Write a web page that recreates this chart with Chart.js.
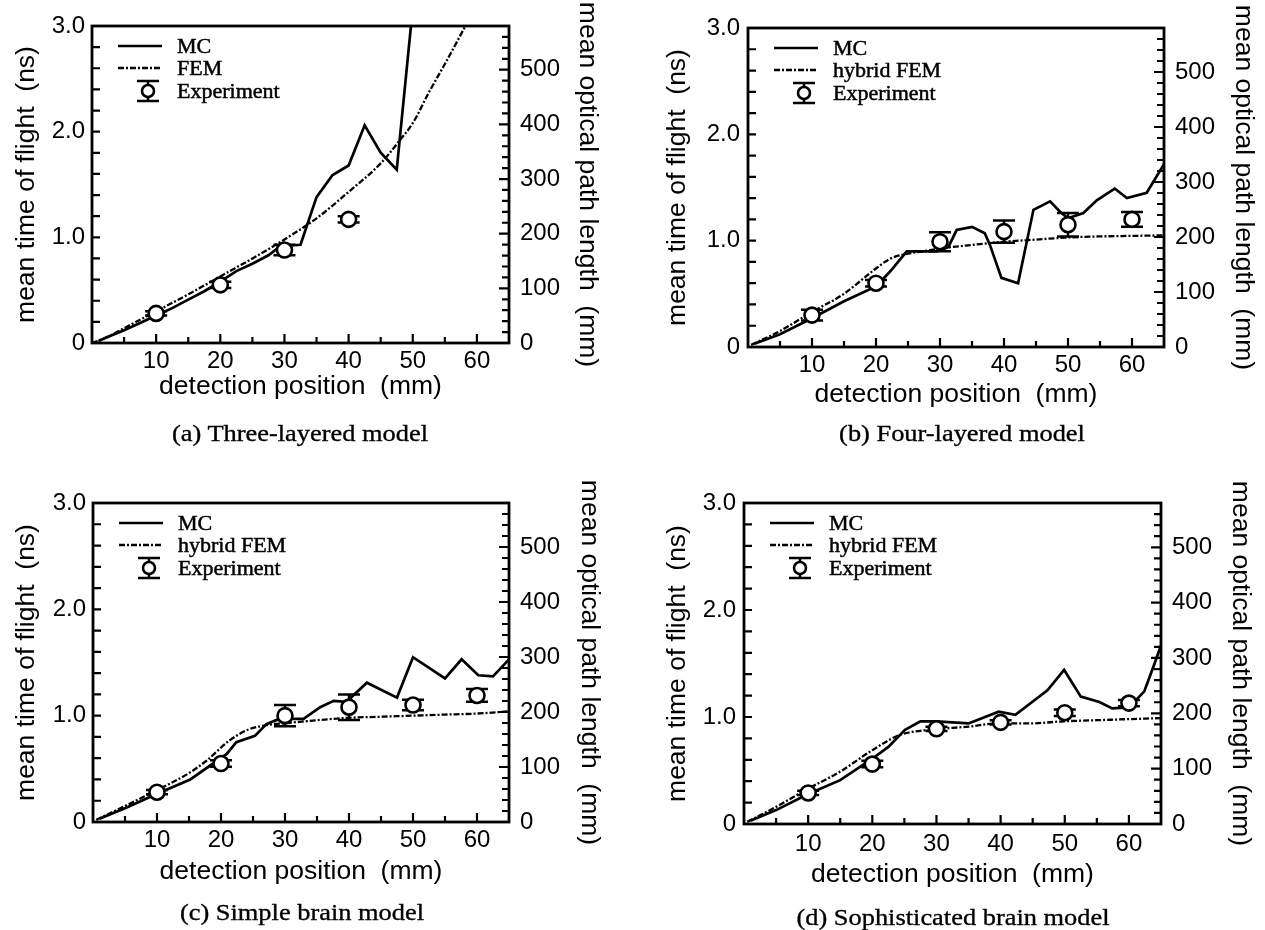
<!DOCTYPE html>
<html><head><meta charset="utf-8">
<script src="https://cdn.jsdelivr.net/npm/chart.js@4.4.1/dist/chart.umd.min.js"></script>
<style>
body{margin:0;background:#fff;width:1265px;height:930px;position:relative;overflow:hidden}
canvas{position:absolute}
.cap{position:absolute;width:500px;text-align:center;font-family:"Liberation Serif","Times New Roman",serif;font-size:24px;color:#000;transform:scaleX(1.1);line-height:28px;white-space:nowrap;-webkit-text-stroke:0.35px #000}
</style></head><body>
<canvas id="ca" width="640" height="420" style="left:0;top:0"></canvas>
<canvas id="cb" width="625" height="420" style="left:640px;top:0"></canvas>
<canvas id="cc" width="640" height="470" style="left:0;top:460px"></canvas>
<canvas id="cd" width="625" height="470" style="left:640px;top:460px"></canvas>
<div class="cap" style="left:50px;top:419px">(a) Three-layered model</div>
<div class="cap" style="left:712px;top:419px">(b) Four-layered model</div>
<div class="cap" style="left:52px;top:898px">(c) Simple brain model</div>
<div class="cap" style="left:703px;top:903px">(d) Sophisticated brain model</div>
<script>
// ---- tick labels / tick marks ----
const xTickLabels = [10, 20, 30, 40, 50, 60];
const xTickMarks = [5, 10, 15, 20, 25, 30, 35, 40, 45, 50, 55, 60];
const yTickLabels = [0, 1, 2, 3];
const yTickMarks = [0.2, 0.4, 0.6, 0.8, 1.0, 1.2, 1.4, 1.6, 1.8, 2.0, 2.2, 2.4, 2.6, 2.8];
const y2TickLabels = [0, 100, 200, 300, 400, 500];
const y2TickMarks = [20, 40, 60, 80, 100, 120, 140, 160, 180, 200, 220, 240, 260, 280, 300, 320, 340, 360, 380, 400, 420, 440, 460, 480, 500, 520, 540, 560];

// ---- legend labels ----
const legendA = ["MC", "FEM", "Experiment"];
const legendB = ["MC", "hybrid FEM", "Experiment"];

// ---- experiment positions ----
const expX = [10, 20, 30, 40, 50, 60];

// ---- (a) Three-layered model ----
const mcA_x = [1, 3, 5, 7.5, 10, 12.5, 15, 17.5, 20, 22.5, 25, 27.5, 29, 30, 32.5, 35, 37.5, 40, 42.5, 45, 47.5, 49.8];
const mcA_y = [0.02, 0.07, 0.12, 0.19, 0.26, 0.33, 0.41, 0.49, 0.58, 0.68, 0.75, 0.83, 0.90, 0.92, 0.93, 1.38, 1.59, 1.68, 2.06, 1.80, 1.64, 3.05];
const femA_x = [0, 2.5, 5, 10, 15, 20, 25, 30, 35, 40, 45, 48, 50, 52.5, 55, 58.2, 59.5];
const femA_y = [0, 0.06, 0.14, 0.30, 0.46, 0.63, 0.80, 0.98, 1.18, 1.43, 1.70, 1.92, 2.08, 2.37, 2.64, 3.0, 3.15];
const expA_x = [10, 20, 30, 40];
const expA_y = [0.28, 0.55, 0.88, 1.17];
const expA_err = [0.02, 0.03, 0.05, 0.03];

// ---- (b) Four-layered model ----
const mcB_x = [1, 5, 10, 15, 20, 22.2, 24.8, 27.4, 29.5, 31.3, 32.6, 35, 37, 37.8, 39.6, 42.2, 44.6, 47.2, 48.8, 50, 52.4, 54.5, 57.3, 59.2, 62.3, 64, 65];
const mcB_y = [0.03, 0.12, 0.27, 0.43, 0.57, 0.71, 0.90, 0.90, 0.90, 0.94, 1.10, 1.13, 1.07, 0.96, 0.65, 0.60, 1.29, 1.37, 1.27, 1.21, 1.26, 1.38, 1.49, 1.40, 1.45, 1.62, 1.72];
const femB_x = [0.5, 5, 10, 15, 19.6, 22.2, 24.3, 27.4, 30.5, 35, 40, 45, 50, 55, 60, 65];
const femB_y = [0.02, 0.15, 0.33, 0.50, 0.72, 0.83, 0.87, 0.90, 0.93, 0.96, 0.99, 1.01, 1.03, 1.04, 1.045, 1.05];
const expB_y = [0.30, 0.60, 0.99, 1.085, 1.15, 1.20];
const expB_err = [0.05, 0.03, 0.09, 0.105, 0.11, 0.07];

// ---- (c) Simple brain model ----
const mcC_x = [1, 5, 10.2, 15.2, 20.9, 22.4, 25.3, 27.1, 28.7, 30.3, 32.9, 35.5, 37.6, 39.6, 42.8, 47.5, 50, 55, 57.6, 60.2, 62.5, 65];
const mcC_y = [0.03, 0.13, 0.27, 0.40, 0.64, 0.75, 0.81, 0.92, 0.96, 0.97, 0.97, 1.08, 1.14, 1.13, 1.31, 1.17, 1.55, 1.35, 1.53, 1.38, 1.37, 1.53];
const femC_x = [0.5, 5, 10, 15, 17.8, 21.4, 24.3, 27.1, 30.3, 35.5, 40, 45, 50, 55, 60, 65];
const femC_y = [0.02, 0.15, 0.30, 0.46, 0.58, 0.77, 0.87, 0.91, 0.93, 0.96, 0.98, 0.99, 1.00, 1.01, 1.02, 1.04];
const expC_y = [0.28, 0.55, 1.00, 1.08, 1.10, 1.19];
const expC_err = [0.02, 0.03, 0.10, 0.12, 0.05, 0.06];

// ---- (d) Sophisticated brain model ----
const mcD_x = [1, 5, 10, 15, 20, 22.5, 25.1, 27.5, 30, 35, 39.7, 42.3, 47.3, 49.9, 52.5, 55.4, 57.4, 60, 62.4, 64, 65];
const mcD_y = [0.03, 0.13, 0.28, 0.41, 0.61, 0.72, 0.88, 0.96, 0.96, 0.94, 1.05, 1.02, 1.25, 1.44, 1.19, 1.14, 1.08, 1.09, 1.24, 1.50, 1.67];
const femD_x = [0.5, 5, 10, 15, 20, 24.2, 28.8, 35, 39.7, 44.4, 49.9, 55, 60, 65];
const femD_y = [0.02, 0.16, 0.33, 0.49, 0.69, 0.83, 0.88, 0.91, 0.94, 0.94, 0.96, 0.97, 0.98, 0.99];
const expD_y = [0.29, 0.56, 0.89, 0.95, 1.04, 1.13];
const expD_err = [0.02, 0.03, 0.02, 0.02, 0.03, 0.03];

const SANS = '"Liberation Sans", Arial, Helvetica, sans-serif';
const SERIF = '"Liberation Serif", "Times New Roman", serif';
const FEM_DASH = [6, 2, 2, 2];
const zip = (xs, ys) => xs.map((x, i) => ({x: x, y: ys[i]}));

const framePlugin = {
  id: 'frame',
  beforeDatasetDraw(chart, args) {
    if (args.index !== 0) return;
    const ds = chart.data.datasets[0];
    const {ctx} = chart; const xs = chart.scales.x, ys = chart.scales.y;
    ctx.save(); ctx.strokeStyle = '#000'; ctx.lineWidth = 2.5;
    ds.data.forEach((p, i) => {
      const e = ds.errors[i];
      const px = xs.getPixelForValue(p.x);
      const yt = ys.getPixelForValue(p.y + e), yb = ys.getPixelForValue(p.y - e);
      ctx.beginPath();
      ctx.moveTo(px, yt); ctx.lineTo(px, yb);
      ctx.moveTo(px - 11, yt); ctx.lineTo(px + 11, yt);
      ctx.moveTo(px - 11, yb); ctx.lineTo(px + 11, yb);
      ctx.stroke();
    });
    ctx.restore();
  },
  afterDraw(chart) {
    const {ctx, chartArea: a, scales} = chart;
    ctx.save(); ctx.strokeStyle = '#000';
    ctx.lineWidth = 2.2;
    ctx.beginPath();
    xTickMarks.forEach(v => {
      const px = scales.x.getPixelForValue(v);
      const len = (v % 10 === 0) ? 9 : 6;
      ctx.moveTo(px, a.bottom); ctx.lineTo(px, a.bottom - len);
    });
    yTickMarks.forEach(v => {
      const py = scales.y.getPixelForValue(v);
      ctx.moveTo(a.left, py); ctx.lineTo(a.left + 8, py);
    });
    y2TickMarks.forEach(v => {
      const py = scales.y2.getPixelForValue(v);
      const len = (v % 100 === 0) ? 10 : 7;
      ctx.moveTo(a.right, py); ctx.lineTo(a.right - len, py);
    });
    ctx.stroke();
    ctx.lineWidth = 2.8;
    ctx.strokeRect(a.left, a.top, a.right - a.left, a.bottom - a.top);

    // legend
    const labels = chart.options.plugins.figLegend.labels;
    const L = a.left, T = a.top;
    const rows = [T + 20, T + 42, T + 65];
    ctx.lineWidth = 2.6;
    ctx.beginPath(); ctx.moveTo(L + 26, rows[0]); ctx.lineTo(L + 70, rows[0]); ctx.stroke();
    ctx.lineWidth = 2.3; ctx.setLineDash(FEM_DASH);
    ctx.beginPath(); ctx.moveTo(L + 26, rows[1]); ctx.lineTo(L + 70, rows[1]); ctx.stroke();
    ctx.setLineDash([]);
    const sx = L + 56, sy = rows[2];
    ctx.lineWidth = 2.6;
    ctx.beginPath();
    ctx.moveTo(sx, sy - 10); ctx.lineTo(sx, sy + 10);
    ctx.moveTo(sx - 11, sy - 10); ctx.lineTo(sx + 11, sy - 10);
    ctx.moveTo(sx - 11, sy + 10); ctx.lineTo(sx + 11, sy + 10);
    ctx.stroke();
    ctx.beginPath(); ctx.arc(sx, sy, 6, 0, Math.PI * 2);
    ctx.fillStyle = '#fff'; ctx.fill(); ctx.stroke();
    ctx.fillStyle = '#000';
    ctx.font = '22px ' + SERIF;
    ctx.textBaseline = 'middle'; ctx.textAlign = 'left';
    ctx.lineWidth = 0.5;
    labels.forEach((t, i) => { ctx.fillText(t, L + 85, rows[i] + 1); ctx.strokeText(t, L + 85, rows[i] + 1); });
    ctx.restore();
  }
};

function makeChart(id, p, lay) {
  const tickFont = {family: SANS, size: 24};
  const titleFont = {family: SANS, size: 26.5};
  return new Chart(document.getElementById(id), {
    type: 'line',
    data: {
      datasets: [
        {label: p.legend[2], data: zip(p.expX, p.expY), errors: p.expErr, showLine: false,
         pointRadius: 7.5, pointBorderWidth: 2.6, pointBackgroundColor: '#fff', pointBorderColor: '#000', yAxisID: 'y'},
        {label: p.legend[1], data: zip(p.femX, p.femY), borderColor: '#000', borderWidth: 2.3,
         borderDash: FEM_DASH, pointRadius: 0, cubicInterpolationMode: 'monotone', fill: false, yAxisID: 'y'},
        {label: p.legend[0], data: zip(p.mcX, p.mcY), borderColor: '#000', borderWidth: 2.7,
         pointRadius: 0, fill: false, yAxisID: 'y'}
      ]
    },
    options: {
      responsive: false, maintainAspectRatio: false, animation: false,
      layout: {padding: {top: lay.padTop, left: 0, right: 0, bottom: 0}},
      plugins: {legend: {display: false}, tooltip: {enabled: false}, figLegend: {labels: p.legend}},
      scales: {
        x: {
          type: 'linear', position: 'bottom', min: 0, max: 65,
          afterBuildTicks: s => { s.ticks = xTickLabels.map(v => ({value: v})); },
          afterFit: s => { s.height = lay.xH; },
          ticks: {font: tickFont, color: '#000', padding: lay.xTickPad, maxRotation: 0, autoSkip: false, callback: v => String(v)},
          grid: {display: false, drawTicks: false}, border: {display: false},
          title: {display: true, text: 'detection position  (mm)', font: titleFont, color: '#000', padding: {top: 0, bottom: lay.xTitlePad}}
        },
        y: {
          type: 'linear', position: 'left', min: 0, max: 3,
          afterBuildTicks: s => { s.ticks = yTickLabels.map(v => ({value: v})); },
          afterFit: s => { s.width = lay.yW; },
          ticks: {font: tickFont, color: '#000', padding: lay.yTickPad, callback: v => v === 0 ? '0' : v.toFixed(1)},
          grid: {display: false, drawTicks: false}, border: {display: false},
          title: {display: true, text: 'mean time of flight  (ns)', font: titleFont, color: '#000', padding: {top: lay.yTitlePad, bottom: 0}}
        },
        y2: {
          type: 'linear', position: 'right', min: 0, max: 580,
          afterBuildTicks: s => { s.ticks = y2TickLabels.map(v => ({value: v})); },
          afterFit: s => { s.width = lay.y2W; },
          ticks: {font: tickFont, color: '#000', padding: 11, callback: v => String(v)},
          grid: {display: false, drawTicks: false}, border: {display: false},
          title: {display: true, text: 'mean optical path length  (mm)', font: titleFont, color: '#000', padding: {top: lay.y2TitlePad, bottom: 0}}
        }
      }
    },
    plugins: [framePlugin]
  });
}

makeChart('ca', {legend: legendA, mcX: mcA_x, mcY: mcA_y, femX: femA_x, femY: femA_y, expX: expA_x, expY: expA_y, expErr: expA_err},
  {padTop: 26, yW: 92, y2W: 131, xH: 77, yTitlePad: 11, y2TitlePad: 37, xTitlePad: 17, xTickPad: 3.5, yTickPad: 7});
makeChart('cb', {legend: legendB, mcX: mcB_x, mcY: mcB_y, femX: femB_x, femY: femB_y, expX: expX, expY: expB_y, expErr: expB_err},
  {padTop: 28, yW: 108, y2W: 101, xH: 73, yTitlePad: 22, y2TitlePad: 6, xTitlePad: 9, xTickPad: 3.5, yTickPad: 8});
makeChart('cc', {legend: legendB, mcX: mcC_x, mcY: mcC_y, femX: femC_x, femY: femC_y, expX: expX, expY: expC_y, expErr: expC_err},
  {padTop: 43, yW: 93, y2W: 131, xH: 108, yTitlePad: 11, y2TitlePad: 35, xTitlePad: 42, xTickPad: 3.5, yTickPad: 7});
makeChart('cd', {legend: legendB, mcX: mcD_x, mcY: mcD_y, femX: femD_x, femY: femD_y, expX: expX, expY: expD_y, expErr: expD_err},
  {padTop: 43, yW: 104, y2W: 104, xH: 106, yTitlePad: 22, y2TitlePad: 9, xTitlePad: 39, xTickPad: 5.5, yTickPad: 8});
</script>
</body></html>
